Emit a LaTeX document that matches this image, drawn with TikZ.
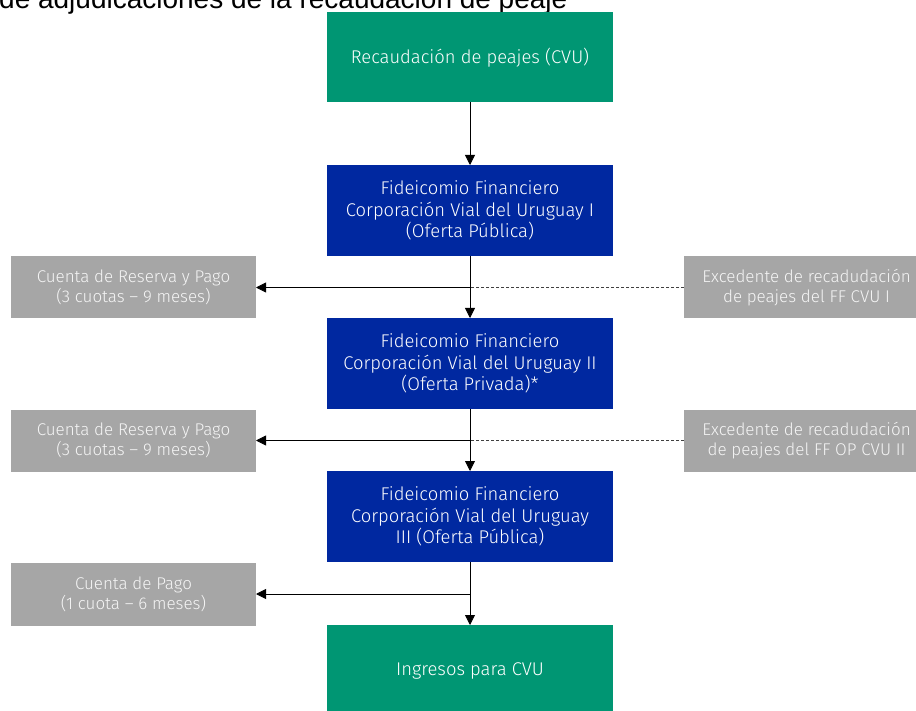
\documentclass[tikz,border=0pt]{standalone}
\usepackage{fontspec}
\setmainfont{Fira Sans}[UprightFont=* Light]
\newfontfamily\titlefont{Liberation Sans}
\usetikzlibrary{arrows.meta}
\definecolor{cvugreen}{RGB}{0,150,115}
\definecolor{cvublue}{RGB}{0,40,160}
\definecolor{cvugray}{RGB}{166,166,166}
\definecolor{graytext}{RGB}{245,245,245}
\tikzset{
  box/.style={inner sep=0pt, outer sep=0pt, align=center,
    font=\fontsize{18.4}{21.5}\selectfont, text=white},
  greenbox/.style={box, fill=cvugreen, minimum width=286pt, minimum height=90pt},
  bluebox/.style={box, fill=cvublue, minimum width=286pt, minimum height=91pt},
  graybox/.style={box, fill=cvugray, text=graytext, minimum width=245pt, minimum height=62pt,
    font=\fontsize{17}{20}\selectfont},
  flow/.style={draw=black, line width=0.8pt, -{Triangle[length=10pt,width=10pt]}},
  dashline/.style={draw=black!75, line width=0.8pt, dash pattern=on 3pt off 2pt}
}
\begin{document}
\begin{tikzpicture}[x=1pt,y=-1pt]
\useasboundingbox (0,0) rectangle (916,711);
\begin{scope}
\clip (0,0) rectangle (916,711);
\node[anchor=base west, font=\fontsize{28}{30}\selectfont\titlefont, text=black, inner sep=0pt] (title) at (-1,9) {de adjudicaciones de la recaudación de peaje};

\node[greenbox] (g1) at (470,57.5) {Recaudación de peajes (CVU)};
\node[bluebox] (b1) at (470,210.5) {Fideicomio Financiero\\Corporación Vial del Uruguay I\\(Oferta Pública)};
\node[bluebox] (b2) at (470,363.5) {Fideicomio Financiero\\Corporación Vial del Uruguay II\\(Oferta Privada)*};
\node[bluebox] (b3) at (470,516.5) {Fideicomio Financiero\\Corporación Vial del Uruguay\\III (Oferta Pública)};
\node[greenbox, minimum height=91pt] (g2) at (470,670.5) {Ingresos para CVU};

\node[graybox] (gl1) at (133.5,287.5) {Cuenta de Reserva y Pago\\(3 cuotas -- 9 meses)};
\node[graybox] (gl2) at (133.5,440.5) {Cuenta de Reserva y Pago\\(3 cuotas -- 9 meses)};
\node[graybox, minimum height=63pt] (gl3) at (133.5,594) {Cuenta de Pago\\(1 cuota -- 6 meses)};
\node[graybox] (gr1) at (806.5,287.5) {Excedente de recadudación\\de peajes del FF CVU I};
\node[graybox] (gr2) at (806.5,440.5) {Excedente de recadudación\\de peajes del FF OP CVU II};

\coordinate (j1) at (b1.south |- gl1.east);
\coordinate (j2) at (b2.south |- gl2.east);
\coordinate (j3) at (b3.south |- gl3.east);

\draw[flow] (g1.south) -- (b1.north);
\draw[flow] (b1.south) -- (b2.north);
\draw[flow] (b2.south) -- (b3.north);
\draw[flow] (b3.south) -- (g2.north);
\draw[flow] (j1) -- (gl1.east);
\draw[flow] (j2) -- (gl2.east);
\draw[flow] (j3) -- (gl3.east);
\draw[dashline] (gr1.west) -- (j1);
\draw[dashline] (gr2.west) -- (j2);
\end{scope}
\end{tikzpicture}
\end{document}
